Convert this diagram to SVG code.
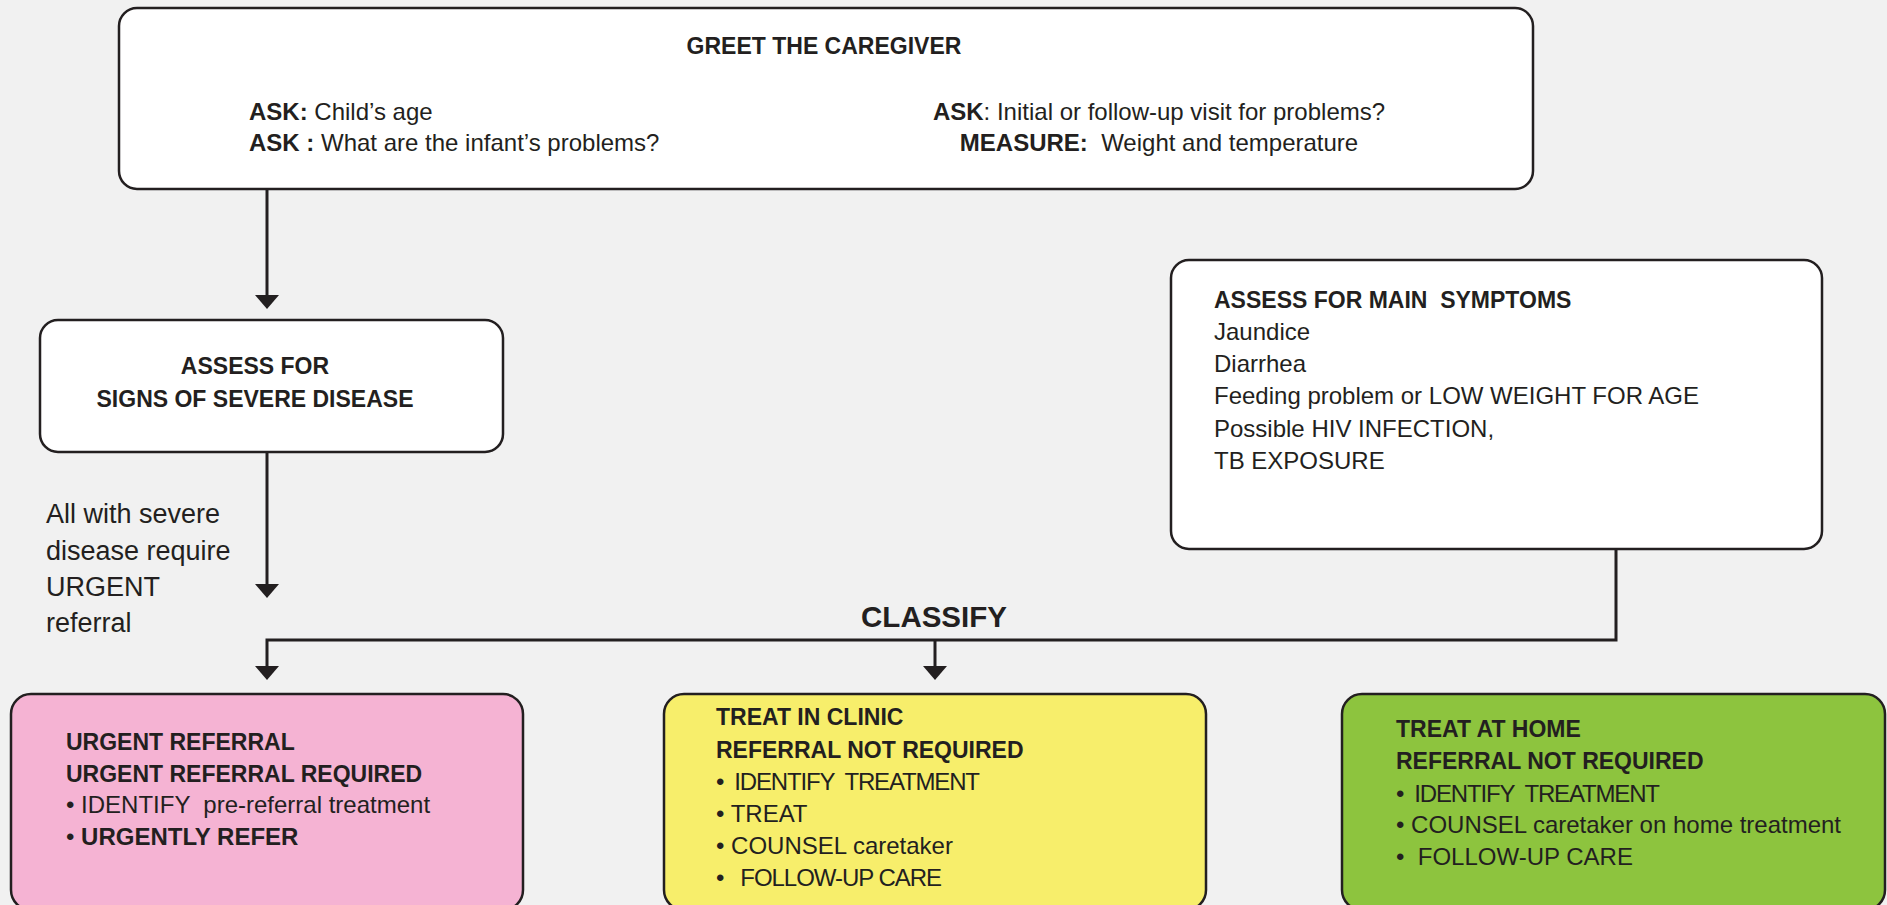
<svg xmlns="http://www.w3.org/2000/svg" width="1887" height="905" viewBox="0 0 1887 905">
<style>
.box{stroke:#231f20;stroke-width:2.5}
.t{font-family:"Liberation Sans",Arial,sans-serif;fill:#231f20;white-space:pre}
.r{font-size:24px}
.b{font-size:23px;font-weight:bold}
.bb{font-weight:bold}
.conn{stroke:#231f20;stroke-width:3;fill:none}
</style>
<defs>
<marker id="ah" viewBox="0 0 14 24" refX="11" refY="12" markerWidth="14" markerHeight="24" markerUnits="userSpaceOnUse" orient="auto">
<path d="M0,0 L14,12 L0,24 z" fill="#231f20"/>
</marker>
</defs>
<rect x="0" y="0" width="1887" height="905" fill="#f1f1f1"/>

<g id="connectors">
<path class="conn" d="M267,189 V306" marker-end="url(#ah)"/>
<path class="conn" d="M267,452 V595" marker-end="url(#ah)"/>
<path class="conn" d="M1616,549 V640 H267 V677" marker-end="url(#ah)"/>
<path class="conn" d="M935,640 V677" marker-end="url(#ah)"/>
<text class="t bb" x="934" y="627" font-size="29.5" text-anchor="middle">CLASSIFY</text>
</g>

<g id="greet">
<rect class="box" x="119" y="8" width="1414" height="181" rx="18" fill="#ffffff"/>
<text class="t b" x="824" y="54" text-anchor="middle">GREET THE CAREGIVER</text>
<text class="t r" x="249" y="120"><tspan class="bb">ASK:</tspan> Child’s age</text>
<text class="t r" x="249" y="151"><tspan class="bb">ASK :</tspan> What are the infant’s problems?</text>
<text class="t r" x="1159" y="120" text-anchor="middle"><tspan class="bb">ASK</tspan>: Initial or follow-up visit for problems?</text>
<text class="t r" x="1159" y="151" text-anchor="middle"><tspan class="bb">MEASURE:</tspan>  Weight and temperature</text>
</g>

<g id="severe">
<rect class="box" x="40" y="320" width="463" height="132" rx="18" fill="#ffffff"/>
<text class="t b" x="255" y="374" text-anchor="middle">ASSESS FOR</text>
<text class="t b" x="255" y="407" text-anchor="middle">SIGNS OF SEVERE DISEASE</text>
</g>

<g id="severe-note">
<text class="t" font-size="27" x="46" y="523">All with severe</text>
<text class="t" font-size="27" x="46" y="560">disease require</text>
<text class="t" font-size="27" x="46" y="596">URGENT</text>
<text class="t" font-size="27" x="46" y="632">referral</text>
</g>

<g id="main-symptoms">
<rect class="box" x="1171" y="260" width="651" height="289" rx="18" fill="#ffffff"/>
<text class="t b" x="1214" y="308">ASSESS FOR MAIN  SYMPTOMS</text>
<text class="t r" x="1214" y="340">Jaundice</text>
<text class="t r" x="1214" y="372">Diarrhea</text>
<text class="t r" x="1214" y="404">Feeding problem or LOW WEIGHT FOR AGE</text>
<text class="t r" x="1214" y="437">Possible HIV INFECTION,</text>
<text class="t r" x="1214" y="469">TB EXPOSURE</text>
</g>

<g id="urgent">
<rect class="box" x="11" y="694" width="512" height="216" rx="20" fill="#f5b3d3"/>
<text class="t b" x="66" y="750">URGENT REFERRAL</text>
<text class="t b" x="66" y="782">URGENT REFERRAL REQUIRED</text>
<text class="t r" x="66" y="813">• IDENTIFY  pre-referral treatment</text>
<text class="t r" x="66" y="845">• <tspan class="bb">URGENTLY REFER</tspan></text>
</g>

<g id="clinic">
<rect class="box" x="664" y="694" width="542" height="216" rx="20" fill="#f7ee6b"/>
<text class="t b" x="716" y="725">TREAT IN CLINIC</text>
<text class="t b" x="716" y="758">REFERRAL NOT REQUIRED</text>
<text class="t r" x="716" y="790" textLength="264">•  IDENTIFY  TREATMENT</text>
<text class="t r" x="716" y="822">• TREAT</text>
<text class="t r" x="716" y="854">• COUNSEL caretaker</text>
<text class="t r" x="716" y="886" textLength="226">•   FOLLOW-UP CARE</text>
</g>

<g id="home">
<rect class="box" x="1342" y="694" width="543" height="216" rx="20" fill="#8dc43e"/>
<text class="t b" x="1396" y="737">TREAT AT HOME</text>
<text class="t b" x="1396" y="769">REFERRAL NOT REQUIRED</text>
<text class="t r" x="1396" y="802" textLength="264">•  IDENTIFY  TREATMENT</text>
<text class="t r" x="1396" y="833">• COUNSEL caretaker on home treatment</text>
<text class="t r" x="1396" y="865">•  FOLLOW-UP CARE</text>
</g>
</svg>
